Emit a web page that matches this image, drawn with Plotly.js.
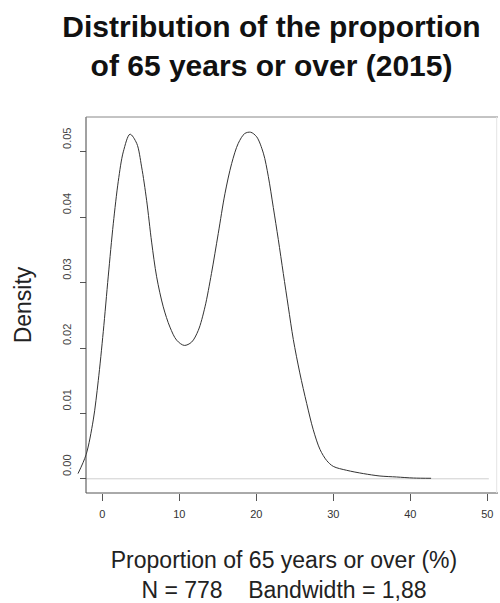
<!DOCTYPE html>
<html>
<head>
<meta charset="utf-8">
<script src="https://cdn.plot.ly/plotly-3.0.1.min.js"></script>
<style>html,body{margin:0;padding:0;background:#fff;}#chart{width:500px;height:603px;}</style>
</head>
<body>
<div id="chart"></div>
<script>
// Density curve
var proportion = [-3.15, -2.1, -1.17, -0.52, 0.13, 0.78, 1.43, 2.08, 2.73, 3.6, 4.47, 5.11, 5.76, 6.41, 7.06, 7.92, 8.79, 9.66, 10.65, 11.6, 12.47, 13.34, 14.18, 15.06, 15.93, 16.8, 17.66, 18.5, 19.27, 20.05, 20.92, 21.57, 22.21, 22.86, 23.51, 24.16, 24.81, 25.65, 26.55, 27.4, 28.27, 29.14, 30.0, 31.74, 33.9, 36.06, 38.2, 40.4, 42.7];
var density = [0.0008, 0.0037, 0.0090, 0.0150, 0.0225, 0.0310, 0.0390, 0.0455, 0.0500, 0.0527, 0.0513, 0.0477, 0.0426, 0.0362, 0.0309, 0.0263, 0.0232, 0.0212, 0.0204, 0.0209, 0.0227, 0.0263, 0.0314, 0.0375, 0.0436, 0.0482, 0.0513, 0.0528, 0.0530, 0.0523, 0.0498, 0.0462, 0.0415, 0.0366, 0.0314, 0.0263, 0.0213, 0.0162, 0.0115, 0.0075, 0.0045, 0.0028, 0.0019, 0.0013, 0.0008, 0.00043, 0.00028, 0.00012, 0.00008];
var xTicks = [0, 10, 20, 30, 40, 50];
var yTicks = [0, 0.01, 0.02, 0.03, 0.04, 0.05];
var yTickLabels = ['0.00', '0.01', '0.02', '0.03', '0.04', '0.05'];

var FONT = 'Liberation Sans, Arial, Helvetica, sans-serif';
var boxLeft = 16 / 428;

var trace = {
  x: proportion, y: density, type: 'scatter', mode: 'lines',
  line: {color: '#333', width: 1, shape: 'spline', smoothing: 0.9},
  hoverinfo: 'x+y'
};

var layout = {
  width: 500, height: 603,
  margin: {l: 70, r: 2, t: 117, b: 110, pad: 0},
  paper_bgcolor: '#fff', plot_bgcolor: '#fff',
  showlegend: false,
  font: {family: FONT, color: '#222'},
  title: {
    text: '<b>Distribution of the proportion<br>of 65 years or over (2015)</b>',
    font: {family: FONT, size: 30, color: '#111'},
    xref: 'container', x: 0.543, xanchor: 'center',
    yref: 'container', y: 1 - 37 / 603, yanchor: 'top'
  },
  xaxis: {
    range: [-4.19, 51.39], domain: [0, 1],
    tickvals: xTicks, ticktext: xTicks.map(String),
    ticks: 'outside', ticklen: 7, tickcolor: '#555', tickwidth: 1,
    ticklabelstandoff: 4,
    showline: false, showgrid: false, zeroline: false,
    tickfont: {family: FONT, size: 11, color: '#333'},
    title: {
      text: 'Proportion of 65 years or over (%)<br>N = 778\u00a0\u00a0\u00a0\u00a0Bandwidth = 1,88',
      font: {family: FONT, size: 23, color: '#222'},
      standoff: 40
    }
  },
  yaxis: {
    anchor: 'free', position: boxLeft,
    range: [-0.00217, 0.05533],
    tickvals: yTicks, ticktext: yTickLabels,
    tickangle: -90, ticklabelshift: -12, ticklabelstandoff: 5,
    ticks: 'outside', ticklen: 6, tickcolor: '#555', tickwidth: 1,
    showline: false, showgrid: false, zeroline: false,
    tickfont: {family: FONT, size: 11, color: '#444'},
    title: {text: 'Density', font: {family: FONT, size: 23, color: '#222'}, standoff: 21}
  },
  shapes: [
    {type: 'line', xref: 'x', yref: 'y', x0: -2.1, x1: 50.2, y0: 0, y1: 0, line: {color: '#cfcfcf', width: 1}, layer: 'below'},
    {type: 'line', xref: 'paper', yref: 'paper', x0: boxLeft, x1: boxLeft, y0: 0, y1: 1, line: {color: '#444', width: 1}},
    {type: 'line', xref: 'paper', yref: 'paper', x0: boxLeft, x1: 1, y0: 0, y1: 0, line: {color: '#555', width: 1}},
    {type: 'line', xref: 'paper', yref: 'paper', x0: boxLeft, x1: 1, y0: 1, y1: 1, line: {color: '#888', width: 1}},
    {type: 'line', xref: 'paper', yref: 'paper', x0: 0.997, x1: 0.997, y0: 0, y1: 1, line: {color: '#e4e4e4', width: 1}}
  ]
};

Plotly.newPlot('chart', [trace], layout, {displayModeBar: false, staticPlot: true});
</script>
</body>
</html>
